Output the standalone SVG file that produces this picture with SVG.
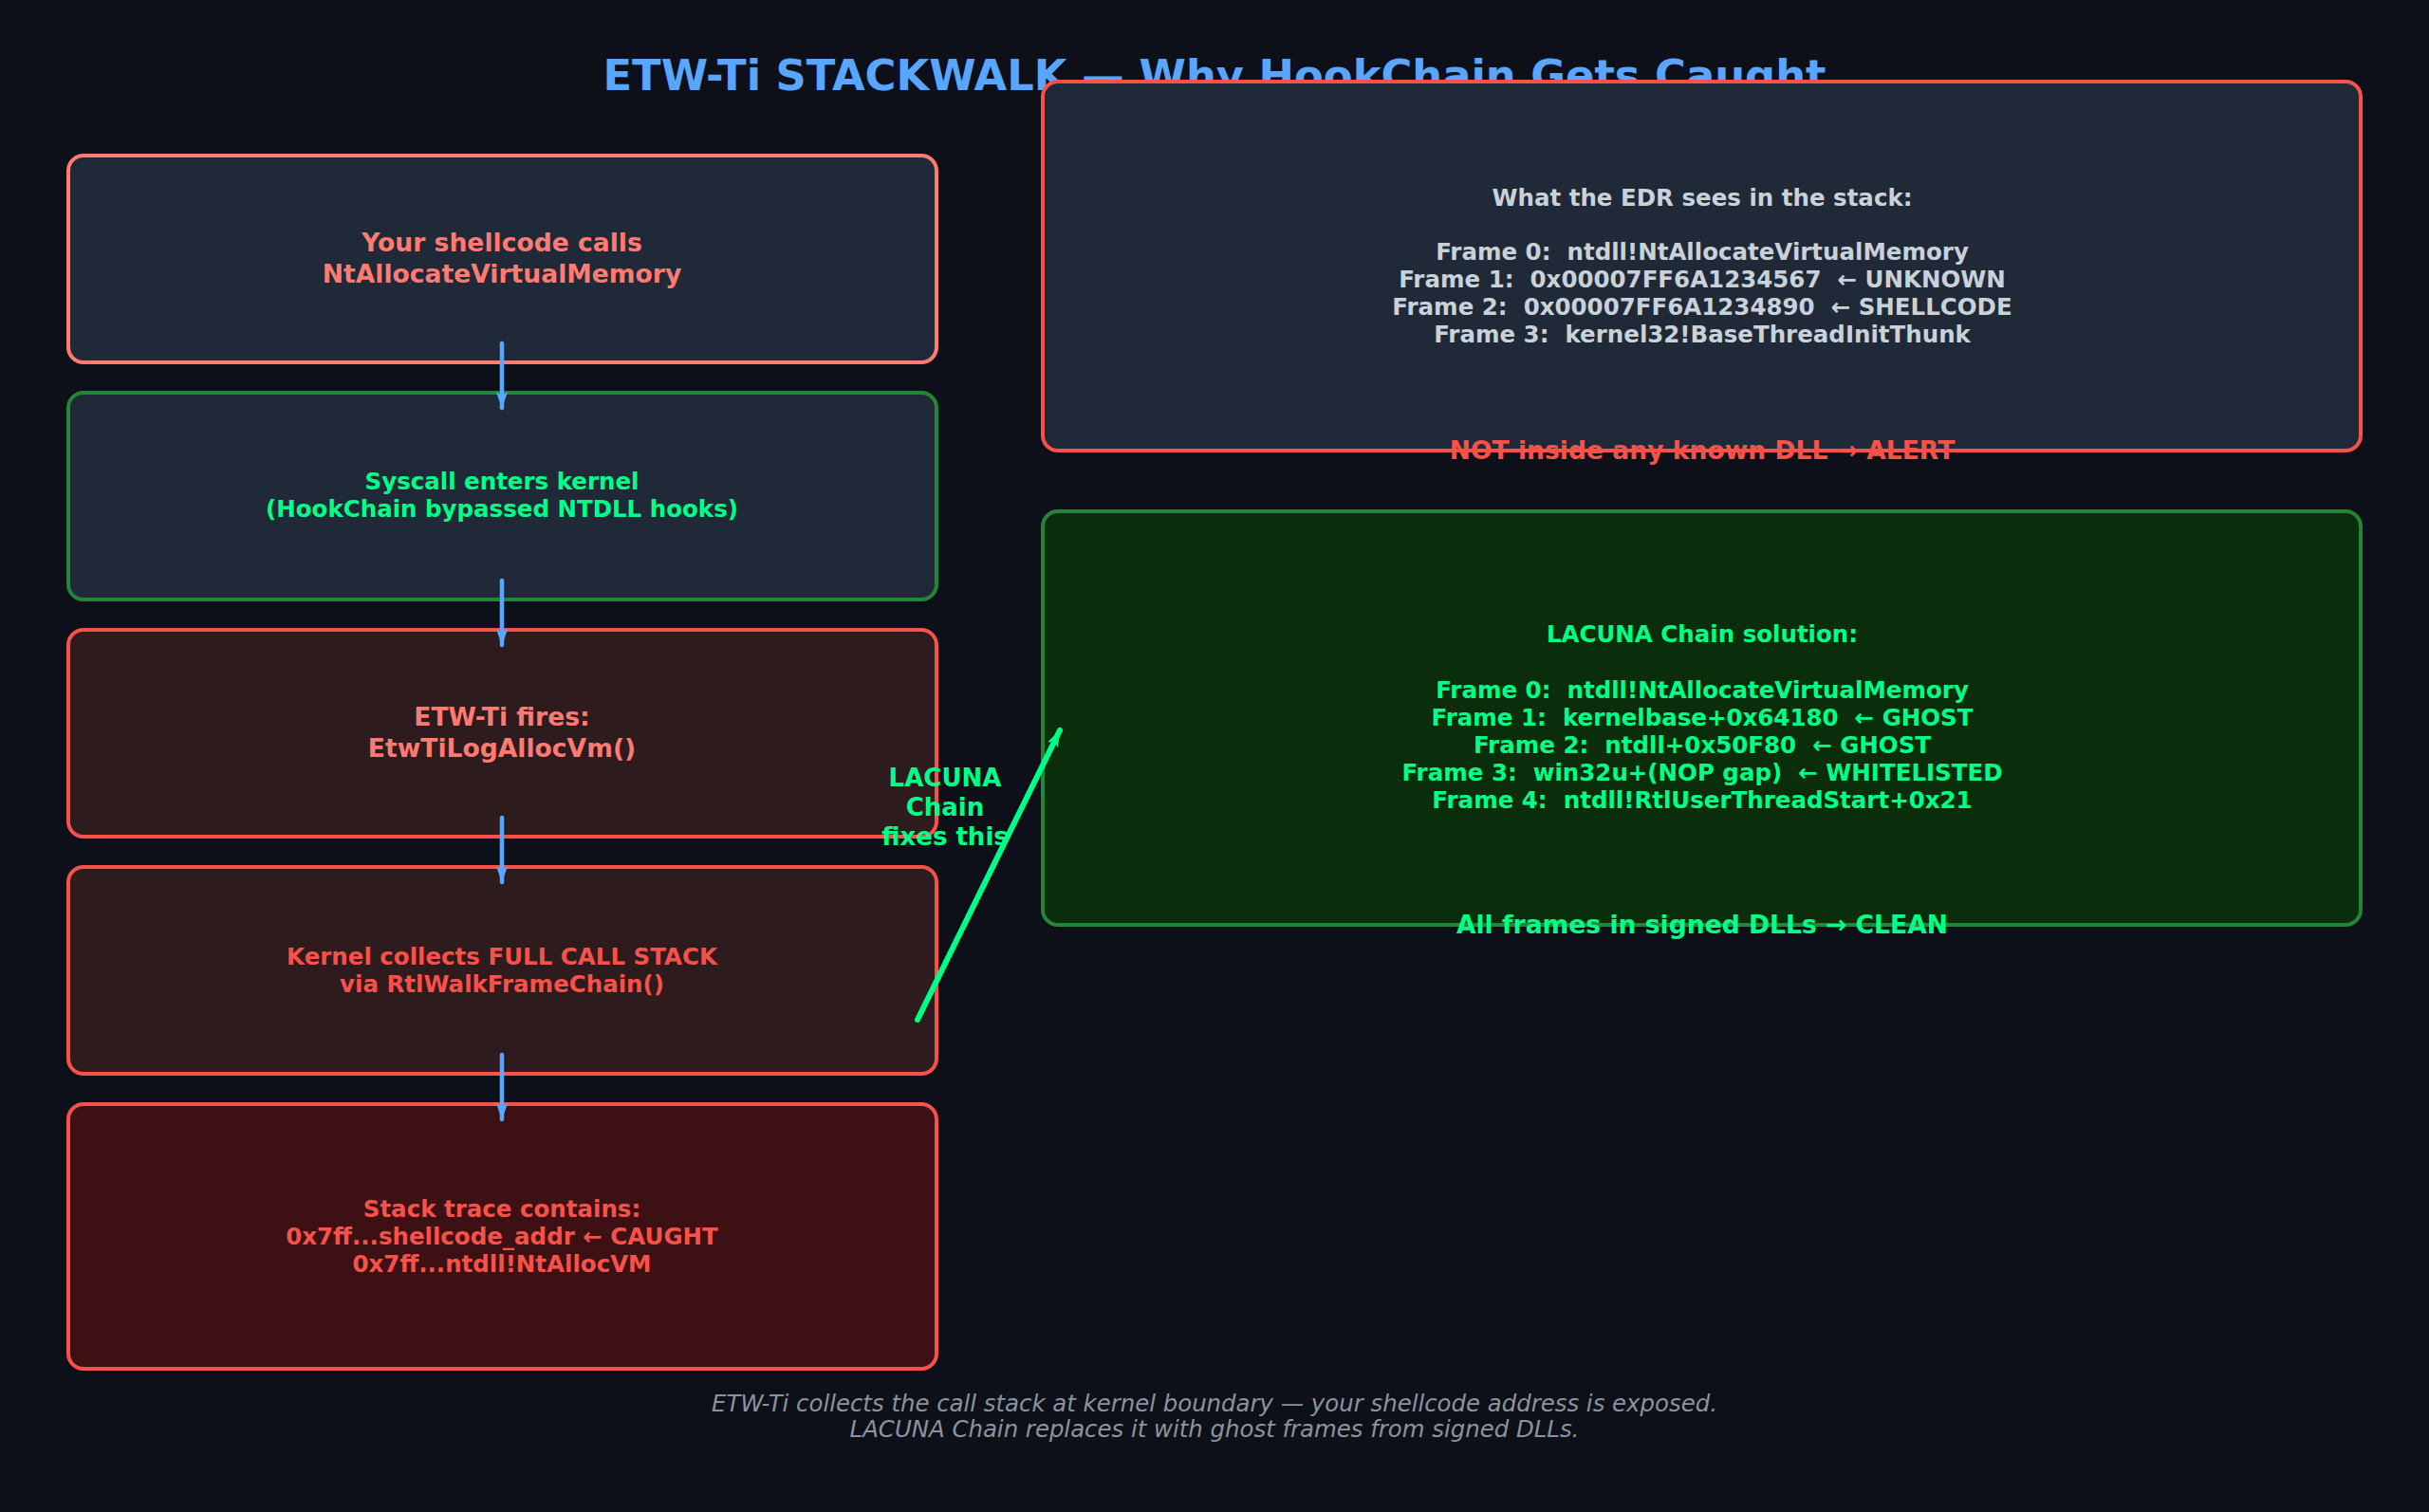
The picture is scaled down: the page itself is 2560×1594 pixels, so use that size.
<svg xmlns="http://www.w3.org/2000/svg" width="2560" height="1594" viewBox="0 0 2560 1594">
<defs>
<style>
text{font-family:"DejaVu Sans","Liberation Sans",sans-serif;font-weight:bold;text-anchor:middle}
.box{stroke-width:4}
.t26{font-size:26.6px}
.t23{font-size:24.5px}
.salmon{fill:#ff7b72}
.red{fill:#f85149}
.green{fill:#00ff88}
.grey{fill:#c9d1d9}
.blue{stroke:#58a6ff;stroke-width:4.5;fill:none;stroke-linecap:round}
.foot{font-size:24.4px;font-weight:normal;font-style:italic;fill:#8b949e}
</style>
<marker id="ah" viewBox="0 0 18 14" refX="17" refY="7" markerWidth="18" markerHeight="14" markerUnits="userSpaceOnUse" orient="auto">
<path d="M0,1 L18,7 L0,13 L4,7 Z" fill="#58a6ff"/>
</marker>
<marker id="ahg" viewBox="0 0 18 14" refX="17" refY="7" markerWidth="18" markerHeight="14" markerUnits="userSpaceOnUse" orient="auto">
<path d="M0,1 L18,7 L0,13 L4,7 Z" fill="#00ff88"/>
</marker>
</defs>
<rect width="2560" height="1594" fill="#0d1018"/>
<text x="1280" y="95" style="font-size:44.8px" fill="#58a6ff">ETW-Ti STACKWALK — Why HookChain Gets Caught</text>

<g id="node-shellcode">
<rect class="box" x="72" y="164" width="915" height="218" rx="16" fill="#202938" stroke="#ff7b72"/>
<text class="t26 salmon" x="529" y="265">Your shellcode calls</text>
<text class="t26 salmon" x="529" y="298">NtAllocateVirtualMemory</text>
</g>
<g id="node-syscall">
<rect class="box" x="72" y="414" width="915" height="218" rx="16" fill="#202938" stroke="#238636"/>
<text class="t23 green" x="529" y="516">Syscall enters kernel</text>
<text class="t23 green" x="529" y="545">(HookChain bypassed NTDLL hooks)</text>
</g>
<g id="node-etwti">
<rect class="box" x="72" y="664" width="915" height="218" rx="16" fill="#2d1b1e" stroke="#f85149"/>
<text class="t26 salmon" x="529" y="765">ETW-Ti fires:</text>
<text class="t26 salmon" x="529" y="798">EtwTiLogAllocVm()</text>
</g>
<g id="node-kernel">
<rect class="box" x="72" y="914" width="915" height="218" rx="16" fill="#2d1b1e" stroke="#f85149"/>
<text class="t23 red" x="529" y="1017">Kernel collects FULL CALL STACK</text>
<text class="t23 red" x="529" y="1046">via RtlWalkFrameChain()</text>
</g>
<g id="node-stacktrace">
<rect class="box" x="72" y="1164" width="915" height="279" rx="16" fill="#3d1114" stroke="#f85149"/>
<text class="t23 red" x="529" y="1283">Stack trace contains:</text>
<text class="t23 red" x="529" y="1312">0x7ff...shellcode_addr ← CAUGHT</text>
<text class="t23 red" x="529" y="1341">0x7ff...ntdll!NtAllocVM</text>
</g>
<g id="node-edr">
<rect class="box" x="1099" y="86" width="1389" height="389" rx="16" fill="#202938" stroke="#f85149"/>
<text class="t23 grey" x="1794" y="217">What the EDR sees in the stack:</text>
<text class="t23 grey" x="1794" y="274" xml:space="preserve">Frame 0:  ntdll!NtAllocateVirtualMemory</text>
<text class="t23 grey" x="1794" y="303" xml:space="preserve">Frame 1:  0x00007FF6A1234567  ← UNKNOWN</text>
<text class="t23 grey" x="1794" y="332" xml:space="preserve">Frame 2:  0x00007FF6A1234890  ← SHELLCODE</text>
<text class="t23 grey" x="1794" y="361" xml:space="preserve">Frame 3:  kernel32!BaseThreadInitThunk</text>
<text class="t26 red" x="1794" y="484">NOT inside any known DLL → ALERT</text>
</g>
<g id="node-lacuna">
<rect class="box" x="1099" y="539" width="1389" height="436" rx="16" fill="#0a2e0c" stroke="#238636"/>
<text class="t23 green" x="1794" y="677">LACUNA Chain solution:</text>
<text class="t23 green" x="1794" y="736" xml:space="preserve">Frame 0:  ntdll!NtAllocateVirtualMemory</text>
<text class="t23 green" x="1794" y="765" xml:space="preserve">Frame 1:  kernelbase+0x64180  ← GHOST</text>
<text class="t23 green" x="1794" y="794" xml:space="preserve">Frame 2:  ntdll+0x50F80  ← GHOST</text>
<text class="t23 green" x="1794" y="823" xml:space="preserve">Frame 3:  win32u+(NOP gap)  ← WHITELISTED</text>
<text class="t23 green" x="1794" y="852" xml:space="preserve">Frame 4:  ntdll!RtlUserThreadStart+0x21</text>
<text class="t26 green" x="1794" y="984">All frames in signed DLLs → CLEAN</text>
</g>

<g id="connectors">
<line class="blue" x1="529" y1="362" x2="529" y2="430" marker-end="url(#ah)"/>
<line class="blue" x1="529" y1="612" x2="529" y2="680" marker-end="url(#ah)"/>
<line class="blue" x1="529" y1="862" x2="529" y2="930" marker-end="url(#ah)"/>
<line class="blue" x1="529" y1="1112" x2="529" y2="1180" marker-end="url(#ah)"/>
<line x1="967" y1="1075" x2="1117" y2="770" stroke="#00ff88" stroke-width="6" stroke-linecap="round" marker-end="url(#ahg)"/>
<text class="green" style="font-size:26px" x="996" y="829">LACUNA</text>
<text class="green" style="font-size:26px" x="996" y="860">Chain</text>
<text class="green" style="font-size:26px" x="996" y="891">fixes this</text>
</g>

<text class="foot" x="1280" y="1488">ETW-Ti collects the call stack at kernel boundary — your shellcode address is exposed.</text>
<text class="foot" x="1280" y="1515">LACUNA Chain replaces it with ghost frames from signed DLLs.</text>
</svg>
